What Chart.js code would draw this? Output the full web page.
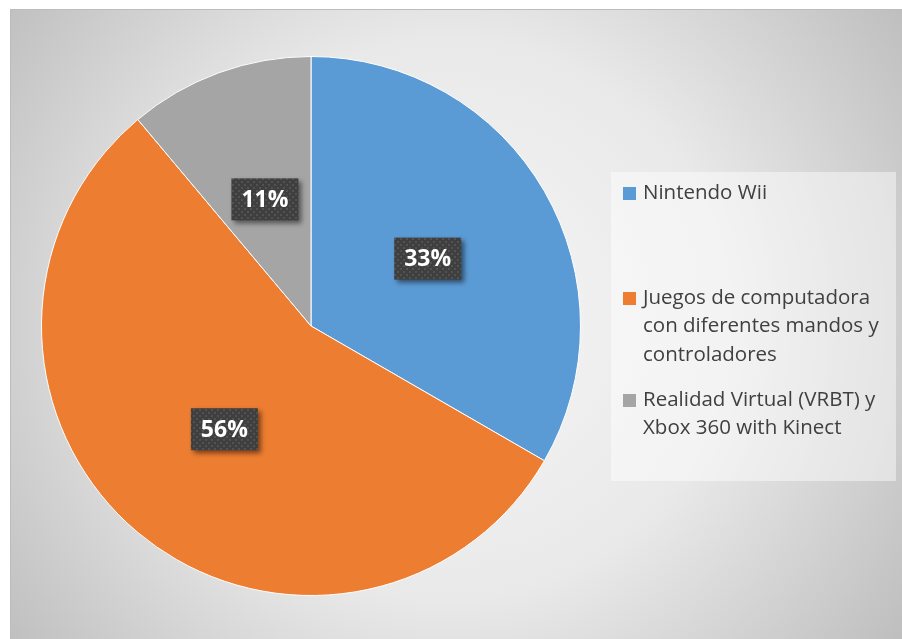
<!DOCTYPE html>
<html>
<head>
<meta charset="utf-8">
<script src="https://cdn.jsdelivr.net/npm/chart.js@4/dist/chart.umd.min.js"></script>
<style>
  html, body { margin: 0; padding: 0; background: #fff; }
  #wrap { width: 902px; height: 639px; position: relative; }
</style>
</head>
<body>
<div id="wrap"><canvas id="pieChart"></canvas></div>
<script>
// data
const labels = [
  ["Nintendo Wii"],
  ["Juegos de computadora", "con diferentes mandos y", "controladores"],
  ["Realidad Virtual (VRBT) y", "Xbox 360 with Kinect"]
];
const values = [3, 5, 1];
const colors = ["#5B9BD5", "#ED7D31", "#A5A5A5"];

// dotted dark fill for the % boxes
function makePattern() {
  const c = document.createElement("canvas");
  c.width = 6; c.height = 6;
  const g = c.getContext("2d");
  g.fillStyle = "#3f3f3f";
  g.fillRect(0, 0, 6, 6);
  g.fillStyle = "#525252";
  g.fillRect(1, 1, 2, 2);
  g.fillRect(4, 4, 2, 2);
  return g.createPattern(c, "repeat");
}

// background with radial gradient
const bgPlugin = {
  id: "bg",
  beforeDraw(chart) {
    const ctx = chart.ctx;
    ctx.save();
    ctx.fillStyle = "#fff";
    ctx.fillRect(0, 0, chart.width, chart.height);
    const grd = ctx.createRadialGradient(450, 320, 0, 450, 320, 560);
    grd.addColorStop(0, "#f6f6f6");
    grd.addColorStop(0.5, "#e9e9e9");
    grd.addColorStop(1, "#bdbdbd");
    ctx.fillStyle = grd;
    ctx.fillRect(10, 9, chart.width - 10, chart.height - 9);
    ctx.strokeStyle = "#bcbcbc";
    ctx.lineWidth = 1;
    ctx.beginPath();
    ctx.moveTo(10, 9.5);
    ctx.lineTo(chart.width, 9.5);
    ctx.moveTo(10.5, 9);
    ctx.lineTo(10.5, chart.height);
    ctx.stroke();
    ctx.restore();
  }
};

// percent labels
const pctPlugin = {
  id: "pct",
  afterDatasetsDraw(chart) {
    const ctx = chart.ctx;
    const meta = chart.getDatasetMeta(0);
    const total = values.reduce((a, b) => a + b, 0);
    const pat = makePattern();
    ctx.save();
    ctx.font = "bold 23px 'Open Sans'";
    ctx.textAlign = "center";
    ctx.textBaseline = "middle";
    meta.data.forEach((arc, i) => {
      const p = arc.tooltipPosition();
      const txt = Math.round(values[i] / total * 100) + "%";
      const w = 67, h = 42;
      const x = p.x - w / 2, y = p.y - h / 2;
      ctx.shadowColor = "rgba(0,0,0,0.5)";
      ctx.shadowBlur = 5;
      ctx.shadowOffsetX = 3;
      ctx.shadowOffsetY = 3;
      ctx.fillStyle = pat;
      ctx.fillRect(x, y, w, h);
      ctx.shadowColor = "transparent";
      ctx.fillStyle = "#fff";
      ctx.fillText(txt, p.x, p.y + 1);
    });
    ctx.restore();
  }
};

// legend box on the right
const legendPlugin = {
  id: "sideLegend",
  afterDraw(chart) {
    const ctx = chart.ctx;
    ctx.save();
    ctx.fillStyle = "rgba(255,255,255,0.45)";
    ctx.fillRect(611, 172, 285, 309);
    ctx.font = "20.5px 'Open Sans'";
    ctx.textBaseline = "middle";
    ctx.textAlign = "left";
    const tops = [193, 298, 400];
    labels.forEach((lines, i) => {
      ctx.fillStyle = colors[i];
      ctx.fillRect(623, tops[i] - 6, 13, 13);
      ctx.fillStyle = "#404040";
      lines.forEach((ln, j) => {
        ctx.fillText(ln, 643, tops[i] + j * 28.5);
      });
    });
    ctx.restore();
  }
};

new Chart(document.getElementById("pieChart"), {
  type: "pie",
  data: {
    labels: labels,
    datasets: [{
      data: values,
      backgroundColor: colors,
      borderColor: "#fff",
      borderWidth: 1
    }]
  },
  options: {
    responsive: true,
    maintainAspectRatio: false,
    animation: false,
    layout: { padding: { left: 41, top: 56, right: 321, bottom: 43 } },
    plugins: {
      legend: { display: false },
      tooltip: { enabled: false }
    }
  },
  plugins: [bgPlugin, pctPlugin, legendPlugin]
});
</script>
</body>
</html>
